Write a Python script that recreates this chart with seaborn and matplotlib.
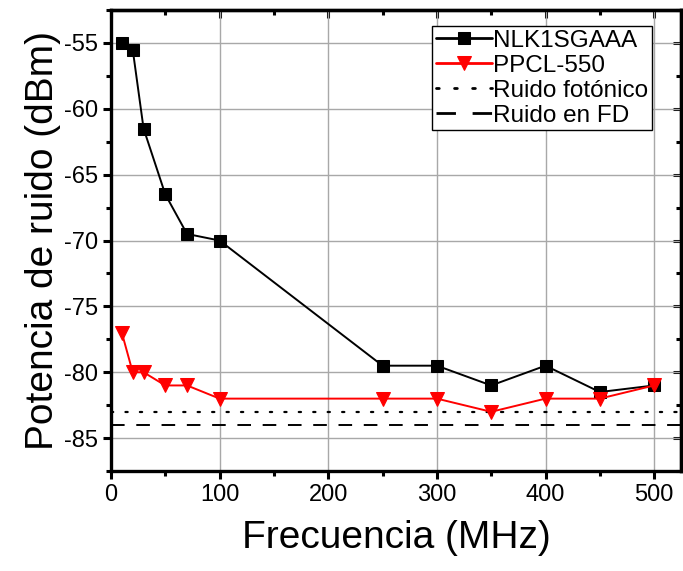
import numpy as np
import pandas as pd
import matplotlib
matplotlib.use("Agg")
import matplotlib.pyplot as plt
import seaborn as sns
from matplotlib.ticker import MultipleLocator

freq = [10, 20, 30, 50, 70, 100, 250, 300, 350, 400, 450, 500]
nlk = [-55, -55.5, -61.5, -66.5, -69.5, -70, -79.5, -79.5, -81, -79.5, -81.5, -81]
ppcl = [-77, -80, -80, -81, -81, -82, -82, -82, -83, -82, -82, -81]
ruido_fotonico = -83
ruido_fd = -84
xlim = (0, 525)
ylim = (-87.5, -52.5)

sns.set_style("ticks")
plt.rcParams["font.family"] = ["Liberation Sans", "DejaVu Sans"]
plt.rcParams["axes.unicode_minus"] = False
plt.rcParams["text.color"] = "black"
plt.rcParams["axes.labelcolor"] = "black"
plt.rcParams["xtick.color"] = "black"
plt.rcParams["ytick.color"] = "black"
plt.rcParams["axes.edgecolor"] = "black"

df = pd.DataFrame({"f": freq, "NLK1SGAAA": nlk, "PPCL-550": ppcl})

fig = plt.figure(figsize=(6.83, 5.71), dpi=100)
ax = fig.add_axes([0.1625, 0.175, 0.835, 0.8075])

ax.grid(True, which="major", color="#a8a8a8", lw=1.0, zorder=0)

sns.lineplot(data=df, x="f", y="NLK1SGAAA", ax=ax, color="black", lw=1.4,
             marker="s", markersize=9, markeredgecolor="black",
             label="NLK1SGAAA", zorder=4)
sns.lineplot(data=df, x="f", y="PPCL-550", ax=ax, color="red", lw=1.4,
             marker="v", markersize=10.5, markeredgecolor="red",
             label="PPCL-550", zorder=5)
ax.axhline(ruido_fotonico, color="black", lw=1.6, ls=(0, (1, 5.5)),
           dash_capstyle="round", label="Ruido fotónico", zorder=3)
ax.axhline(ruido_fd, color="black", lw=1.4, ls=(0, (7, 6)),
           label="Ruido en FD", zorder=3)

ax.set_xlim(*xlim)
ax.set_ylim(*ylim)
ax.xaxis.set_major_locator(MultipleLocator(100))
ax.xaxis.set_minor_locator(MultipleLocator(50))
ax.yaxis.set_major_locator(MultipleLocator(5))
ax.yaxis.set_minor_locator(MultipleLocator(2.5))
ax.set_yticks([-55, -60, -65, -70, -75, -80, -85])
ax.tick_params(which="major", direction="out", length=6, width=2.2, labelsize=17)
ax.tick_params(which="minor", direction="out", length=3.5, width=2.2)

ax.set_xlabel("Frecuencia (MHz)", fontsize=28, labelpad=10)
ax.set_ylabel("Potencia de ruido (dBm)", fontsize=28, labelpad=2)

for s in ax.spines.values():
    s.set_linewidth(2.4)
    s.set_visible(True)

top = ax.secondary_xaxis("top")
top.xaxis.set_major_locator(MultipleLocator(100))
top.xaxis.set_minor_locator(MultipleLocator(50))
top.tick_params(which="major", direction="in", length=6, width=2.2, labeltop=False)
top.tick_params(which="minor", direction="in", length=3.5, width=2.2)
top.spines["top"].set_linewidth(2.4)

right = ax.secondary_yaxis("right")
right.yaxis.set_major_locator(MultipleLocator(5))
right.yaxis.set_minor_locator(MultipleLocator(2.5))
right.tick_params(which="major", direction="in", length=6, width=2.2, labelright=False)
right.tick_params(which="minor", direction="in", length=3.5, width=2.2)
right.spines["right"].set_linewidth(2.4)

leg = ax.legend(loc="upper right", bbox_to_anchor=(0.948, 0.965), fontsize=17.5,
                frameon=True, fancybox=False, handlelength=2.3, handletextpad=0.05,
                labelspacing=0.12, borderpad=0.15, borderaxespad=0)
leg.get_frame().set_edgecolor("black")
leg.get_frame().set_linewidth(1.0)
leg.get_frame().set_alpha(1)
for h in leg.get_lines():
    h.set_linewidth(2.0)

fig.savefig("out.png", dpi=100)
